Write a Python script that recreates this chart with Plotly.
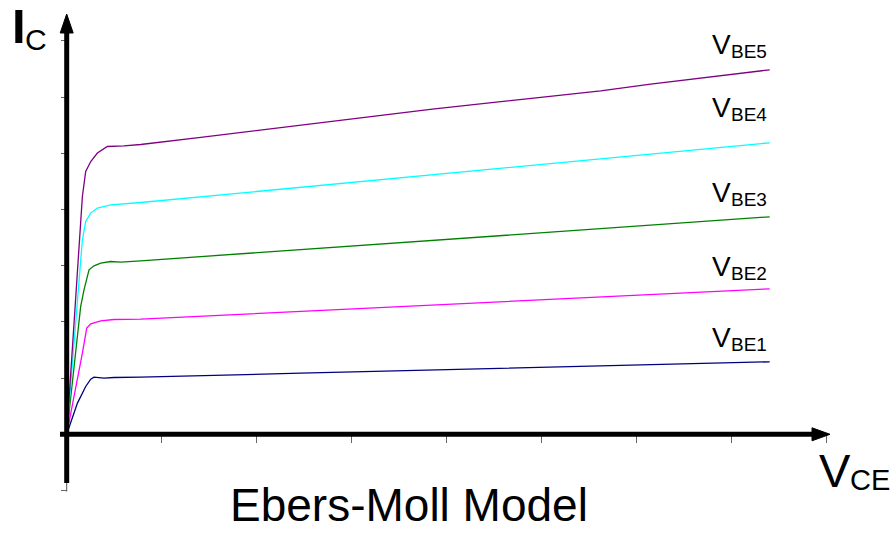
import plotly.graph_objects as go

# ---------------- data ----------------
# x: V_CE (one unit per x tick), y: I_C (one unit per y tick)
vbe1_x = [0, 0.113, 0.2, 0.253, 0.287, 0.393, 0.498, 0.779, 2.463, 4.568, 6.147, 7.4]
vbe1_y = [0, 0.555, 0.851, 0.982, 1.018, 1.0, 1.011, 1.018, 1.087, 1.174, 1.240, 1.290]

vbe2_x = [0, 0.113, 0.165, 0.211, 0.253, 0.358, 0.498, 0.779, 2.463, 4.568, 6.147, 7.4]
vbe2_y = [0, 0.970, 1.445, 1.890, 1.966, 2.020, 2.043, 2.050, 2.189, 2.358, 2.486, 2.589]

vbe3_x = [0, 0.147, 0.182, 0.218, 0.235, 0.287, 0.358, 0.463, 0.568, 0.779, 2.463, 4.568, 6.147, 7.4]
vbe3_y = [0, 2.274, 2.571, 2.838, 2.927, 2.998, 3.046, 3.075, 3.064, 3.087, 3.286, 3.536, 3.722, 3.870]

vbe4_x = [0, 0.071, 0.129, 0.165, 0.2, 0.253, 0.323, 0.463, 0.779, 2.463, 4.568, 6.147, 7.4]
vbe4_y = [0, 1.450, 2.571, 3.461, 3.786, 3.936, 4.025, 4.084, 4.125, 4.395, 4.733, 4.986, 5.187]

vbe5_x = [0, 0.105, 0.165, 0.2, 0.253, 0.323, 0.428, 0.603, 0.779, 1.411, 2.463, 3.849, 4.916, 5.621, 6.147, 7.4]
vbe5_y = [0, 2.749, 4.231, 4.676, 4.854, 5.004, 5.121, 5.133, 5.157, 5.285, 5.498, 5.786, 5.982, 6.112, 6.231, 6.486]

series_subs = ["BE1", "BE2", "BE3", "BE4", "BE5"]
series_colors = ["#000080", "#ff00ff", "#008000", "#00ffff", "#800080"]

x_ticks = [1, 2, 3, 4, 5, 6, 7, 8]
y_ticks = [-1, 1, 2, 3, 4, 5, 6, 7]

title_text = "Ebers-Moll Model"

# ---------------- layout geometry ----------------
W, H = 892, 535
X0, XS = 66.7, 95.0      # pixel of x=0, pixels per x unit
Y0, YS = 434.3, 56.2     # pixel of y=0, pixels per y unit
FONT = "Liberation Sans, Arial, sans-serif"

def dx(px):
    return (px - X0) / XS

def dy(py):
    return (Y0 - py) / YS

fig = go.Figure()

all_x = [vbe1_x, vbe2_x, vbe3_x, vbe4_x, vbe5_x]
all_y = [vbe1_y, vbe2_y, vbe3_y, vbe4_y, vbe5_y]
for xs, ys, sub, col in zip(all_x, all_y, series_subs, series_colors):
    fig.add_trace(go.Scatter(x=xs, y=ys, mode="lines", name="V" + sub,
                             line=dict(color=col, width=1.3), hoverinfo="skip"))

# thick axis lines with arrow heads
shapes = []
shapes.append(dict(type="line", xref="x", yref="y", x0=0, x1=0, y0=dy(491.5), y1=dy(483),
                   line=dict(color="#555", width=1), layer="above"))
shapes.append(dict(type="line", xref="x", yref="y", x0=0, x1=0, y0=dy(483), y1=dy(33),
                   line=dict(color="black", width=5), layer="above"))
shapes.append(dict(type="path", xref="x", yref="y",
                   path=f"M {dx(X0-6.5)} {dy(33)} L {dx(X0+6.5)} {dy(33)} L 0 {dy(14)} Z",
                   fillcolor="black", line=dict(color="black", width=1), layer="above"))
shapes.append(dict(type="line", xref="x", yref="y", x0=dx(60), x1=dx(812), y0=0, y1=0,
                   line=dict(color="black", width=5), layer="above"))
shapes.append(dict(type="path", xref="x", yref="y",
                   path=f"M {dx(812)} {dy(Y0-6.5)} L {dx(812)} {dy(Y0+6.5)} L {dx(830)} 0 Z",
                   fillcolor="black", line=dict(color="black", width=1), layer="above"))

fig.update_layout(
    width=W, height=H,
    margin=dict(l=0, r=0, t=0, b=0, pad=0),
    paper_bgcolor="white", plot_bgcolor="white",
    showlegend=False,
    shapes=shapes,
    xaxis=dict(range=[dx(0), dx(W)], showgrid=False, zeroline=False, showline=False,
               tickvals=x_ticks, ticks="outside", ticklen=8, tickwidth=1, tickcolor="#666",
               showticklabels=False, anchor="free", position=(H - Y0) / H, fixedrange=True),
    yaxis=dict(range=[dy(H), dy(0)], showgrid=False, zeroline=False, showline=False,
               tickvals=y_ticks, ticks="outside", ticklen=6, tickwidth=1, tickcolor="#666",
               showticklabels=False, anchor="free", position=X0 / W, fixedrange=True),
)

def label(text, size, left_px, baseline_px, anchor="left"):
    fig.add_annotation(
        x=left_px / W, y=1 - (baseline_px + 0.212 * size) / H,
        xref="paper", yref="paper", xanchor=anchor, yanchor="bottom",
        text=text, showarrow=False, borderpad=0, borderwidth=0,
        font=dict(family=FONT, size=size, color="black"))

# axis titles
label("<b>I</b>", 49, 11.5, 43)
label("C", 30, 25, 50)
label("V", 47, 818.5, 487)
label("CE", 29, 850, 490)

# curve labels
v_baselines = [347, 276, 202, 117, 54]
for sub, base in zip(series_subs, v_baselines):
    label("V", 28, 712, base)
    label(sub, 19, 731, base + 4)

# bottom caption
label(title_text, 46, 408.5, 521, anchor="center")

fig.write_html("out.html", config={"displayModeBar": False, "staticPlot": True})
